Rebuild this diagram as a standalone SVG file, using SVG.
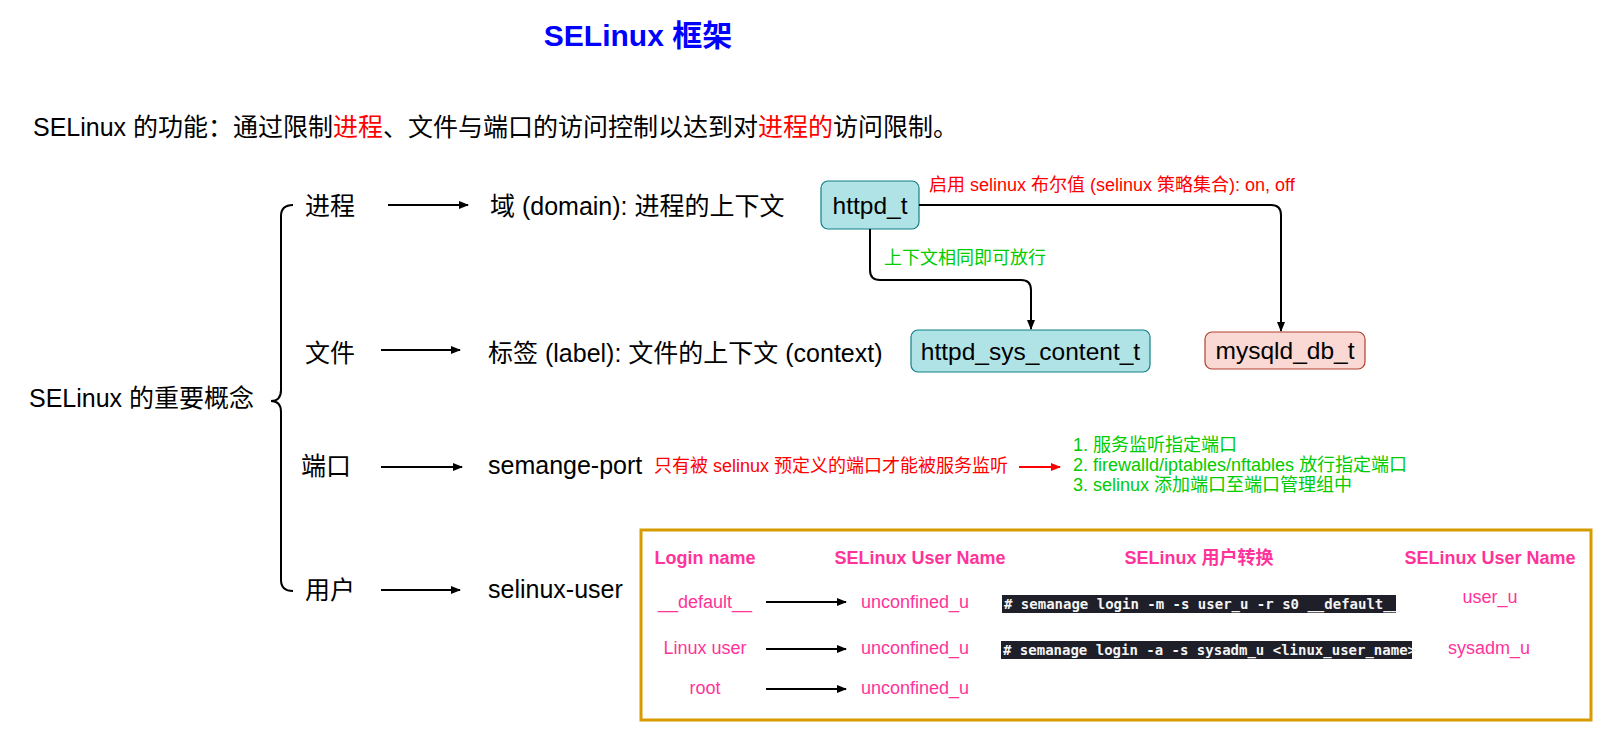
<svg xmlns="http://www.w3.org/2000/svg" width="1602" height="732" viewBox="0 0 1602 732">
<defs>
<style>
text{font-family:"Liberation Sans","Noto Sans CJK SC",sans-serif;}
.main{font-size:25px;fill:#000;}
.sm{font-size:18px;}
.red{fill:#ff0000;}
.green{fill:#00cc00;}
.pink{fill:#ff3399;font-size:18px;}
.hdr{fill:#ff3399;font-size:18px;font-weight:bold;}
.code{font-family:"DejaVu Sans Mono","Liberation Mono",monospace;font-size:14px;fill:#f4f4f4;font-weight:bold;}
.ln{stroke:#000;stroke-width:2;fill:none;}
.blue{fill:#b0e3e6;stroke:#0e8088;stroke-width:1.2;}
.pinkbox{fill:#fad9d5;stroke:#ae4132;stroke-width:1.2;}
</style>
<marker id="ah" viewBox="0 0 10 10" refX="9" refY="5" markerWidth="10" markerHeight="10" markerUnits="userSpaceOnUse" orient="auto"><path d="M0,1 L10,5 L0,9 Z" fill="#000"/></marker>
<marker id="ahr" viewBox="0 0 10 10" refX="9" refY="5" markerWidth="10" markerHeight="10" markerUnits="userSpaceOnUse" orient="auto"><path d="M0,1 L10,5 L0,9 Z" fill="#ff0000"/></marker>
</defs>
<rect width="1602" height="732" fill="#fff"/>

<g id="title"><text x="638" y="46" text-anchor="middle" style="font-size:30px;font-weight:bold;fill:#0000ff">SELinux 框架</text></g>
<g id="subtitle"><text x="33" y="136" style="font-size:25px;fill:#000">SELinux 的功能：通过限制<tspan class="red">进程</tspan>、文件与端口的访问控制以达到对<tspan class="red">进程的</tspan>访问限制。</text></g>

<g id="concept"><text class="main" x="29" y="407">SELinux 的重要概念</text>
<path class="ln" d="M293 205 Q281 205 281 216 L281 390 Q281 401 271 401 Q281 401 281 412 L281 580 Q281 591 293 591"/></g>

<g id="proc"><text class="main" x="305" y="215">进程</text></g>
<g id="file"><text class="main" x="305" y="362">文件</text></g>
<g id="port"><text class="main" x="301" y="475">端口</text></g>
<g id="user"><text class="main" x="305" y="599">用户</text></g>

<g id="domain"><text class="main" x="490" y="215">域 (domain): 进程的上下文</text></g>
<g id="label"><text class="main" x="488" y="362">标签 (label): 文件的上下文 (context)</text></g>
<g id="semport"><text class="main" x="488" y="474">semange-port</text>
<text class="sm red" x="654" y="472">只有被 selinux 预定义的端口才能被服务监听</text></g>
<g id="seuser"><text class="main" x="488" y="598">selinux-user</text></g>

<g id="portlist"><text class="sm green" x="1073" y="451">1. 服务监听指定端口</text>
<text class="sm green" x="1073" y="471">2. firewalld/iptables/nftables 放行指定端口</text>
<text class="sm green" x="1073" y="491">3. selinux 添加端口至端口管理组中</text></g>

<g id="httpd_t"><rect class="blue" x="821" y="181" width="98" height="48" rx="7"/><text class="main" x="870" y="214" text-anchor="middle" style="font-size:24.5px">httpd_t</text></g>
<g id="httpd_sys_content_t"><rect class="blue" x="911" y="330" width="239" height="42" rx="7"/><text class="main" x="1030.5" y="360" text-anchor="middle" style="font-size:24.5px">httpd_sys_content_t</text></g>
<g id="mysqld_db_t"><rect class="pinkbox" x="1205" y="332" width="160" height="37" rx="7"/><text class="main" x="1285" y="359" text-anchor="middle" style="font-size:24.5px">mysqld_db_t</text></g>

<g id="connectors">
<line class="ln" x1="388" y1="205" x2="468" y2="205" marker-end="url(#ah)"/>
<line class="ln" x1="381" y1="350" x2="460" y2="350" marker-end="url(#ah)"/>
<line class="ln" x1="381" y1="467" x2="462" y2="467" marker-end="url(#ah)"/>
<line class="ln" x1="381" y1="590" x2="460" y2="590" marker-end="url(#ah)"/>
<line x1="1019" y1="467" x2="1060" y2="467" stroke="#ff0000" stroke-width="2" marker-end="url(#ahr)"/>
<path class="ln" d="M919 205 L1271 205 Q1281 205 1281 215 L1281 331" marker-end="url(#ah)"/>
<path class="ln" d="M870 229 L870 270 Q870 280 880 280 L1021 280 Q1031 280 1031 290 L1031 329" marker-end="url(#ah)"/>
<line class="ln" x1="766" y1="602" x2="846" y2="602" marker-end="url(#ah)"/>
<line class="ln" x1="766" y1="649" x2="846" y2="649" marker-end="url(#ah)"/>
<line class="ln" x1="766" y1="689" x2="846" y2="689" marker-end="url(#ah)"/>
</g>

<g id="edge_labels">
<text class="sm red" x="929" y="191">启用 selinux 布尔值 (selinux 策略集合): on, off</text>
<text class="sm green" x="884" y="264">上下文相同即可放行</text>
</g>

<g id="usertable">
<rect x="641" y="530" width="950" height="190" fill="none" stroke="#d79b00" stroke-width="3"/>
<text class="hdr" x="705" y="564" text-anchor="middle">Login name</text>
<text class="hdr" x="920" y="564" text-anchor="middle">SELinux User Name</text>
<text class="hdr" x="1199" y="564" text-anchor="middle">SELinux 用户转换</text>
<text class="hdr" x="1490" y="564" text-anchor="middle">SELinux User Name</text>
<text class="pink" x="705" y="608" text-anchor="middle">__default__</text>
<text class="pink" x="915" y="608" text-anchor="middle">unconfined_u</text>
<text class="pink" x="705" y="654" text-anchor="middle">Linux user</text>
<text class="pink" x="915" y="654" text-anchor="middle">unconfined_u</text>
<text class="pink" x="705" y="694" text-anchor="middle">root</text>
<text class="pink" x="915" y="694" text-anchor="middle">unconfined_u</text>
<rect x="1002" y="595" width="394" height="18" fill="#1e1f28"/>
<text class="code" x="1004" y="609"># semanage login -m -s user_u -r s0 __default__</text>
<rect x="1001" y="641" width="411" height="18" fill="#1e1f28"/>
<text class="code" x="1003" y="655"># semanage login -a -s sysadm_u &lt;linux_user_name&gt;</text>
<text class="pink" x="1490" y="603" text-anchor="middle">user_u</text>
<text class="pink" x="1489" y="654" text-anchor="middle">sysadm_u</text>
</g>
</svg>
